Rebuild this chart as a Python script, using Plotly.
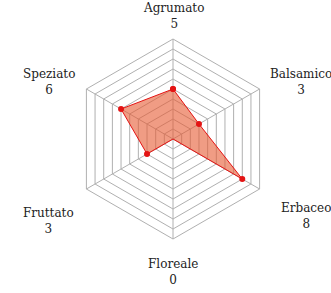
import plotly.graph_objects as go

categories = ["Agrumato", "Balsamico", "Erbaceo", "Floreale", "Fruttato", "Speziato"]
values = [5, 3, 8, 0, 3, 6]

W, H = 331, 293
ML, MR, MT, MB = 73, 58, 39, 54
PW, PH = W - ML - MR, H - MT - MB

fig = go.Figure()
fig.add_trace(go.Scatterpolar(
    r=values + values[:1],
    theta=categories + categories[:1],
    mode="lines+markers",
    fill="toself",
    fillcolor="rgba(230,90,50,0.6)",
    line=dict(color="rgb(228,20,20)", width=1),
    marker=dict(color="rgb(228,20,20)", size=6),
    hoverinfo="skip",
))

# label placement (pixel anchor, xanchor, yanchor) per category, in order
label_pos = [
    (173, 33, "center", "bottom"),
    (268, 82, "left", "middle"),
    (279, 199, "left", "top"),
    (173, 255, "center", "top"),
    (76, 204, "right", "top"),
    (77, 82, "right", "middle"),
]
annotations = []
for cat, val, (px, py, xa, ya) in zip(categories, values, label_pos):
    annotations.append(dict(
        text=f"{cat}<br>{val}", showarrow=False, align="center",
        xref="paper", yref="paper",
        x=(px - ML) / PW, y=(H - MB - py) / PH,
        xanchor=xa, yanchor=ya,
        font=dict(family="DejaVu Serif", size=12, color="#222"),
    ))

fig.update_layout(
    width=W, height=H,
    margin=dict(l=ML, r=MR, t=MT, b=MB, autoexpand=False),
    paper_bgcolor="white",
    showlegend=False,
    annotations=annotations,
    polar=dict(
        bgcolor="white",
        domain=dict(x=[0, 1], y=[0, 1]),
        gridshape="linear",
        radialaxis=dict(range=[0, 10], dtick=1, showticklabels=False, ticks="",
                        ticklen=0, showline=False, gridcolor="#b0b0b0", gridwidth=1),
        angularaxis=dict(rotation=90, direction="clockwise",
                         showticklabels=False, ticks="", ticklen=0,
                         tickcolor="rgba(0,0,0,0)",
                         showline=True, linecolor="#b0b0b0", linewidth=1,
                         gridcolor="#b0b0b0", gridwidth=1),
    ),
)

fig.write_html("out.html", config={"displayModeBar": False}, post_script=(
    "document.body.style.margin='0';document.body.style.padding='0';"
    "document.body.style.overflow='hidden';"
))
